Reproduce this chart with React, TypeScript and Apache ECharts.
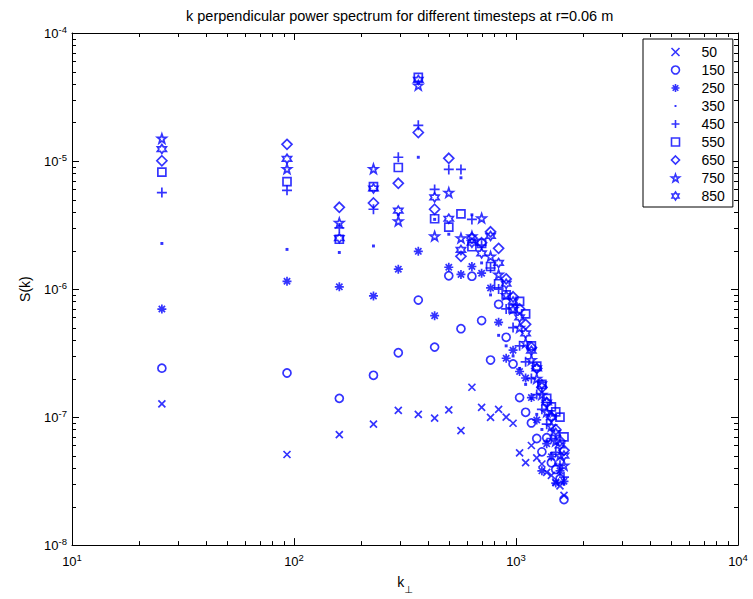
import React, { useEffect, useRef } from "react";
import * as echarts from "echarts";

// k_perp sample positions (shared by every timestep)
const kPerp = [25.4, 93, 160, 228, 295, 363, 430, 498, 565, 633, 700, 768, 835, 903, 970, 1038, 1105, 1173, 1240, 1308, 1375, 1443, 1510, 1578, 1645];

// S(k) per timestep
const s50 = [1.27e-7, 5.1e-8, 7.3e-8, 8.8e-8, 1.13e-7, 1.05e-7, 9.8e-8, 1.14e-7, 7.85e-8, 1.71e-7, 1.19e-7, 9.95e-8, 1.15e-7, 1.0e-7, 8.95e-8, 5.26e-8, 4.4e-8, 6.0e-8, 4.8e-8, 4.3e-8, 3.7e-8, 3.5e-8, 3.1e-8, 2.9e-8, 2.45e-8];
const s150 = [2.41e-7, 2.21e-7, 1.4e-7, 2.12e-7, 3.18e-7, 8.2e-7, 3.52e-7, 1.27e-6, 4.9e-7, 1.26e-6, 5.67e-7, 2.79e-7, 7.6e-7, 4.2e-7, 2.6e-7, 1.42e-7, 1.09e-7, 9.0e-8, 6.8e-8, 5.35e-8, 6.9e-8, 4.4e-8, 3.9e-8, 3.3e-8, 2.27e-8];
const s250 = [6.98e-7, 1.15e-6, 1.04e-6, 8.83e-7, 1.43e-6, 1.97e-6, 6.2e-7, 1.48e-6, 1.3e-6, 1.5e-6, 1.33e-6, 1.02e-6, 5.5e-7, 2.88e-7, 3.33e-7, 2.27e-7, 2.02e-7, 1.42e-7, 9.5e-8, 3.8e-8, 6.2e-8, 4.9e-8, 3.05e-8, 3.8e-8, 3.15e-8];
const s350 = [2.27e-6, 2.04e-6, 1.93e-6, 2.17e-6, 3.8e-6, 1.07e-5, 3.5e-6, 2.68e-6, 7.4e-6, 3.8e-6, 1.6e-6, 9.0e-7, 4.35e-7, 3.6e-7, 3.0e-7, 2.4e-7, 1.8e-7, 1.4e-7, 1.05e-7, 8.0e-8, 6.5e-8, 5.2e-8, 4.3e-8, 3.6e-8, 3.0e-8];
const s450 = [5.67e-6, 5.9e-6, 3.0e-6, 4.2e-6, 1.07e-5, 1.9e-5, 6.0e-6, 8.6e-6, 8.6e-6, 3.5e-6, 2.2e-6, 1.46e-6, 1.0e-6, 7.0e-7, 5.0e-7, 3.6e-7, 2.7e-7, 2.0e-7, 1.5e-7, 1.15e-7, 8.8e-8, 6.8e-8, 5.3e-8, 4.2e-8, 3.4e-8];
const s550 = [8.2e-6, 6.9e-6, 2.45e-6, 6.3e-6, 8.9e-6, 4.5e-5, 3.54e-6, 3.05e-6, 3.86e-6, 2.14e-6, 2.27e-6, 1.5e-6, 1.1e-6, 9.0e-7, 7.0e-7, 8.0e-7, 6.4e-7, 3.6e-7, 2.5e-7, 1.8e-7, 1.4e-7, 1.2e-7, 1.1e-7, 1.0e-7, 7.0e-8];
const s650 = [1.005e-5, 1.35e-5, 4.35e-6, 4.7e-6, 6.7e-6, 1.67e-5, 4.2e-6, 1.05e-5, 1.8e-6, 2.5e-6, 2.3e-6, 2.8e-6, 2.08e-6, 1.2e-6, 8.7e-7, 7.0e-7, 5.3e-7, 3.5e-7, 2.4e-7, 1.7e-7, 1.3e-7, 1.0e-7, 8.0e-8, 6.5e-8, 5.5e-8];
const s750 = [1.5e-5, 8.7e-6, 3.3e-6, 8.7e-6, 3.4e-6, 3.9e-5, 2.59e-6, 5.67e-6, 2.5e-6, 2.59e-6, 3.58e-6, 1.8e-6, 1.3e-6, 9.0e-7, 7.0e-7, 5.0e-7, 3.8e-7, 2.8e-7, 2.0e-7, 1.5e-7, 1.1e-7, 8.5e-8, 6.5e-8, 5.0e-8, 4.2e-8];
const s850 = [1.24e-5, 1.04e-5, 2.5e-6, 6.1e-6, 4.1e-6, 4.3e-5, 5.2e-6, 3.54e-6, 2.02e-6, 2.3e-6, 1.9e-6, 2.6e-6, 1.6e-6, 1.1e-6, 8.0e-7, 6.0e-7, 4.5e-7, 3.3e-7, 2.4e-7, 1.8e-7, 1.3e-7, 1.0e-7, 7.5e-8, 6.0e-8, 5.0e-8];

const timesteps = ["50", "150", "250", "350", "450", "550", "650", "750", "850"];
const seriesValues = [s50, s150, s250, s350, s450, s550, s650, s750, s850];

// axis tick labels (10^exp)
const xTickExponents = ["1", "2", "3", "4"];
const yTickExponents = ["-8", "-7", "-6", "-5", "-4"];
const minorSteps = [2, 3, 4, 5, 6, 7, 8, 9];
const xDecadeStarts = [10, 100, 1000];
const yDecadeStarts = [1e-8, 1e-7, 1e-6, 1e-5];

const TITLE = "k perpendicular power spectrum for different timesteps at r=0.06 m";
const BLUE = "#0000ff";
const FONT = '"Liberation Sans", Arial, Helvetica, sans-serif';

const SYM_X = "path://M0,0L10,10M10,0L0,10";
const SYM_PLUS = "path://M5,0L5,10M0,5L10,5";
const SYM_AST = "path://M5,0L5,10M0,5L10,5M1.5,1.5L8.5,8.5M8.5,1.5L1.5,8.5";
const SYM_DOT = "path://M0,0M9,9M3.4,3.4L5.6,3.4L5.6,5.6L3.4,5.6Z";
const SYM_PENT = "path://M5,0L6.176,3.382L9.755,3.455L6.902,5.618L7.939,9.045L5,7L2.061,9.045L3.098,5.618L0.245,3.455L3.824,3.382Z";
const SYM_HEX = "path://M5,0L6.443,2.5L9.33,2.5L7.887,5L9.33,7.5L6.443,7.5L5,10L3.557,7.5L0.67,7.5L2.113,5L0.67,2.5L3.557,2.5Z";

const markerDefs = [
  { symbol: SYM_X, size: 7, filled: false },
  { symbol: "circle", size: 8, filled: false },
  { symbol: SYM_AST, size: 9, filled: false },
  { symbol: SYM_DOT, size: 12, filled: true },
  { symbol: SYM_PLUS, size: 10, filled: false },
  { symbol: "rect", size: 8, filled: false },
  { symbol: "diamond", size: 10, filled: false },
  { symbol: SYM_PENT, size: 9, filled: false },
  { symbol: SYM_HEX, size: 9, filled: false },
];

const xMinor: number[] = [];
xDecadeStarts.forEach((d) => minorSteps.forEach((m) => xMinor.push(d * m)));
const yMinor: number[] = [];
yDecadeStarts.forEach((d) => minorSteps.forEach((m) => yMinor.push(d * m)));

const tickRich = {
  b: { fontSize: 13, fontFamily: FONT, color: "#000", verticalAlign: "middle", lineHeight: 14 },
  s: { fontSize: 9.5, fontFamily: FONT, color: "#000", verticalAlign: "middle", lineHeight: 9, padding: [0, 0, 8, 0] },
};

function expLabel(v: number, exps: string[], firstExp: number) {
  const e = Math.round(Math.log10(v));
  return `{b|10}{s|${exps[e - firstExp]}}`;
}

function buildOption(): any {
  const axisLine = { show: true, onZero: false, lineStyle: { color: "#000", width: 1 } };
  const tick = { show: true, inside: true, length: 7, lineStyle: { color: "#000", width: 1 } };

  const scatter = timesteps.map((name, i) => {
    const m = markerDefs[i];
    return {
      name,
      type: "scatter",
      xAxisIndex: 0,
      yAxisIndex: 0,
      symbol: m.symbol,
      symbolSize: m.size,
      itemStyle: m.filled
        ? { color: BLUE, borderWidth: 0 }
        : { color: "none", borderColor: BLUE, borderWidth: 1.7 },
      emphasis: { disabled: true },
      data: kPerp.map((k, j) => [k, seriesValues[i][j]]),
      z: 3,
    };
  });

  const minorX = {
    type: "custom",
    xAxisIndex: 0,
    yAxisIndex: 0,
    silent: true,
    z: 4,
    data: xMinor.map((v) => [v, 1e-6]),
    renderItem: (params: any, api: any) => {
      const x = Math.round(api.coord([api.value(0), 1e-6])[0]) + 0.5;
      const cs = params.coordSys;
      const top = cs.y;
      const bottom = cs.y + cs.height;
      return {
        type: "group",
        children: [
          { type: "line", shape: { x1: x, y1: bottom, x2: x, y2: bottom - 4 }, style: { stroke: "#000", lineWidth: 1 } },
          { type: "line", shape: { x1: x, y1: top, x2: x, y2: top + 4 }, style: { stroke: "#000", lineWidth: 1 } },
        ],
      };
    },
  };

  const minorY = {
    type: "custom",
    xAxisIndex: 0,
    yAxisIndex: 0,
    silent: true,
    z: 4,
    data: yMinor.map((v) => [100, v]),
    renderItem: (params: any, api: any) => {
      const y = Math.round(api.coord([100, api.value(1)])[1]) + 0.5;
      const cs = params.coordSys;
      const left = cs.x;
      const right = cs.x + cs.width;
      return {
        type: "group",
        children: [
          { type: "line", shape: { x1: left, y1: y, x2: left + 4, y2: y }, style: { stroke: "#000", lineWidth: 1 } },
          { type: "line", shape: { x1: right, y1: y, x2: right - 4, y2: y }, style: { stroke: "#000", lineWidth: 1 } },
        ],
      };
    },
  };

  return {
    animation: false,
    backgroundColor: "#fff",
    textStyle: { fontFamily: FONT },
    title: {
      text: TITLE,
      left: 186,
      top: 8,
      padding: 0,
      textStyle: { fontSize: 14.5, fontWeight: "normal", color: "#000", fontFamily: FONT, lineHeight: 16 },
    },
    grid: { left: 72, top: 33, width: 666, height: 520, containLabel: false },
    legend: {
      orient: "vertical",
      left: 643,
      top: 39,
      padding: [6, 8, 4, 26],
      itemWidth: 8,
      itemHeight: 8,
      itemGap: 4,
      selectedMode: false,
      backgroundColor: "#fff",
      borderColor: "#000",
      borderWidth: 1,
      borderRadius: 0,
      itemStyle: { borderWidth: 1.6 },
      data: timesteps.map((n, i) =>
        markerDefs[i].filled ? { name: n, itemStyle: { borderWidth: 0 } } : { name: n }
      ),
      formatter: (name: string) => `{sp| }{t|${name}}`,
      textStyle: {
        rich: {
          sp: { width: 17, lineHeight: 14, fontSize: 14 },
          t: { fontSize: 14, lineHeight: 14, color: "#000", fontFamily: FONT },
        },
      },
    },
    xAxis: [
      {
        type: "log",
        logBase: 10,
        min: 10,
        max: 10000,
        position: "bottom",
        axisLine,
        axisTick: tick,
        splitLine: { show: false },
        axisLabel: {
          show: true,
          margin: 9,
          formatter: (v: number) => expLabel(v, xTickExponents, 1),
          rich: tickRich,
        },
        name: "{k|k}{sub|⊥}",
        nameLocation: "middle",
        nameGap: 17,
        nameTextStyle: {
          rich: {
            k: { fontSize: 14, fontFamily: FONT, color: "#000", verticalAlign: "middle" },
            sub: { fontSize: 10, fontFamily: "DejaVu Sans", color: "#000", verticalAlign: "middle", padding: [14, 0, 0, 0] },
          },
        },
      },
      {
        type: "log",
        logBase: 10,
        min: 10,
        max: 10000,
        position: "top",
        axisLine,
        axisTick: tick,
        splitLine: { show: false },
        axisLabel: { show: false },
      },
    ],
    yAxis: [
      {
        type: "log",
        logBase: 10,
        min: 1e-8,
        max: 1e-4,
        position: "left",
        axisLine,
        axisTick: tick,
        splitLine: { show: false },
        axisLabel: {
          show: true,
          margin: 5,
          formatter: (v: number) => expLabel(v, yTickExponents, -8),
          rich: tickRich,
        },
        name: "S(k)",
        nameLocation: "middle",
        nameGap: 40,
        nameTextStyle: { fontSize: 14, fontFamily: FONT, color: "#000" },
      },
      {
        type: "log",
        logBase: 10,
        min: 1e-8,
        max: 1e-4,
        position: "right",
        axisLine,
        axisTick: tick,
        splitLine: { show: false },
        axisLabel: { show: false },
      },
    ],
    series: [...scatter, minorX, minorY],
  };
}

export default function App() {
  const ref = useRef<HTMLDivElement>(null);
  useEffect(() => {
    if (!ref.current) return;
    const chart = echarts.init(ref.current, null, { renderer: "svg" });
    chart.setOption(buildOption());
    return () => chart.dispose();
  }, []);
  return (
    <div
      ref={ref}
      style={{ position: "absolute", left: 0, top: 0, width: 753, height: 599, background: "#fff" }}
    />
  );
}
